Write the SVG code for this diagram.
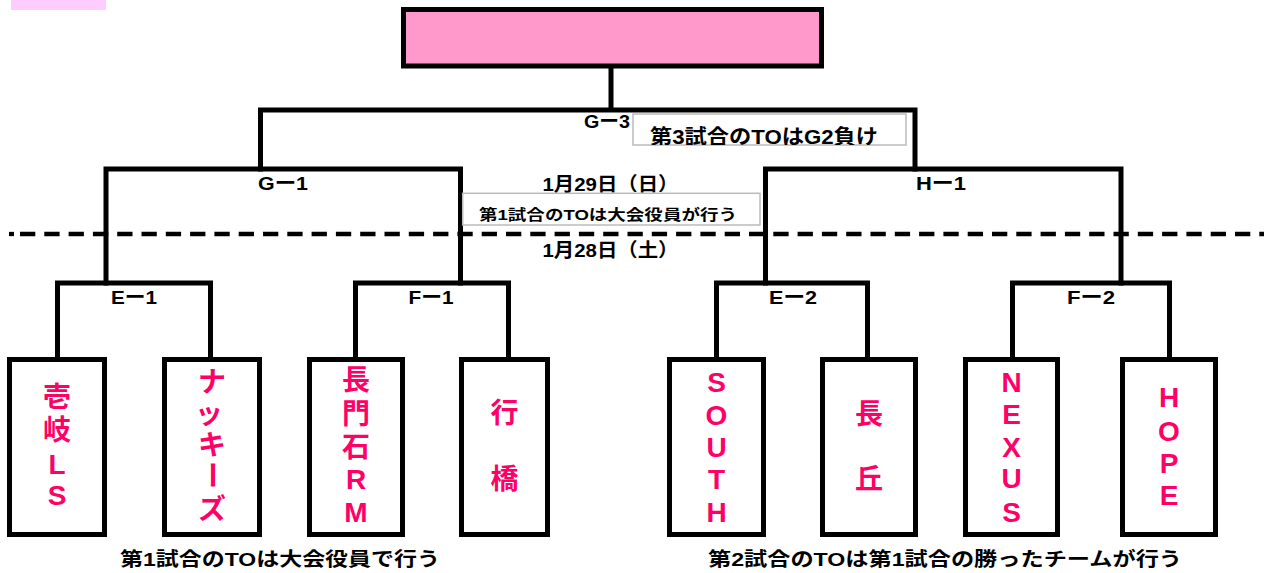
<svg xmlns="http://www.w3.org/2000/svg" width="1264" height="573" viewBox="0 0 1264 573">
<style>
.ln{fill:none;stroke:#000;stroke-width:5;stroke-linecap:square}
.box{fill:#fff;stroke:#000;stroke-width:5}
.lbl{font-family:"Liberation Sans","Noto Sans CJK JP",sans-serif;font-weight:bold;font-size:19px;fill:#000;text-anchor:middle}
.team{font-family:"Liberation Sans","Noto Sans CJK JP",sans-serif;font-weight:bold;font-size:28px;fill:#FF0066;text-anchor:middle}
.note{fill:#fff;stroke:#BBBBBB;stroke-width:1.5}
</style>
<defs>
<clipPath id="clipNote2"><rect x="633" y="114" width="273" height="31"/></clipPath>
</defs>
<rect width="1264" height="573" fill="#fff"/>
<rect id="corner-mark" x="11" y="0" width="95" height="10" fill="#FFCCFF"/>

<g id="connectors">
<path class="ln" d="M611 66 V110 M260.5 169 V110 H915 V169"/>
<path class="ln" d="M106 283 V169 H460.5 V283"/>
<path class="ln" d="M765.5 283 V169 H1121 V283"/>
<path class="ln" d="M57.5 359 V283 H210.5 V359"/>
<path class="ln" d="M355.5 359 V283 H508.5 V359"/>
<path class="ln" d="M716.5 359 V283 H867.5 V359"/>
<path class="ln" d="M1012.5 359 V283 H1169.5 V359"/>
<path d="M9 234 H14" stroke="#000" stroke-width="4.3"/>
<path d="M20 234 H1264" stroke="#000" stroke-width="4.3" stroke-dasharray="15.3 9"/>
</g>

<g id="match-labels">
<text class="lbl" x="607" y="128" textLength="46" lengthAdjust="spacingAndGlyphs">Gー3</text>
<text class="lbl" x="283" y="190" textLength="50" lengthAdjust="spacingAndGlyphs">Gー1</text>
<text class="lbl" x="941" y="190" textLength="50" lengthAdjust="spacingAndGlyphs">Hー1</text>
<text class="lbl" x="134" y="304" textLength="46" lengthAdjust="spacingAndGlyphs">Eー1</text>
<text class="lbl" x="431" y="304" textLength="45" lengthAdjust="spacingAndGlyphs">Fー1</text>
<text class="lbl" x="793" y="304" textLength="48" lengthAdjust="spacingAndGlyphs">Eー2</text>
<text class="lbl" x="1091" y="304" textLength="48" lengthAdjust="spacingAndGlyphs">Fー2</text>
</g>

<g id="final">
<rect x="403.5" y="9.5" width="418" height="56.5" fill="#FF99CC" stroke="#000" stroke-width="5"/>
</g>

<g id="dates">
<text class="lbl" x="610.5" y="191" textLength="136" lengthAdjust="spacingAndGlyphs">1月29日（日）</text>
<text class="lbl" x="610.5" y="257" textLength="136" lengthAdjust="spacingAndGlyphs">1月28日（土）</text>
</g>

<g id="note-g3">
<rect class="note" x="633" y="114" width="273" height="31"/>
<text class="lbl" x="764" y="144" textLength="228" lengthAdjust="spacingAndGlyphs" clip-path="url(#clipNote2)" style="font-size:20px">第3試合のTOはG2負け</text>
</g>

<g id="note-g1">
<rect class="note" x="462.7" y="193.3" width="297.3" height="31.7"/>
<text class="lbl" x="608" y="220" textLength="258" lengthAdjust="spacingAndGlyphs" style="font-size:14.5px">第1試合のTOは大会役員が行う</text>
</g>

<g id="team-ikilS">
<rect class="box" x="9.5" y="359.5" width="95" height="175"/>
<text class="team" x="57" y="407">壱</text>
<text class="team" x="57" y="440">岐</text>
<text class="team" x="57" y="474">L</text>
<text class="team" x="57" y="505">S</text>
</g>

<g id="team-nakkies">
<rect class="box" x="164.5" y="359.5" width="95" height="175"/>
<text class="team" x="212" y="392">ナ</text>
<text class="team" x="209" y="424">ッ</text>
<text class="team" x="212" y="455">キ</text>
<text class="team" x="212" y="485" transform="rotate(90 212 475)">ー</text>
<text class="team" x="212" y="519">ズ</text>
</g>

<g id="team-nagatoishiRM">
<rect class="box" x="309.5" y="359.5" width="93" height="175"/>
<text class="team" x="356" y="390">長</text>
<text class="team" x="356" y="424">門</text>
<text class="team" x="356" y="457">石</text>
<text class="team" x="356" y="489">R</text>
<text class="team" x="356" y="522">M</text>
</g>

<g id="team-yukuhashi">
<rect class="box" x="461.5" y="359.5" width="86" height="175"/>
<text class="team" x="504.5" y="423">行</text>
<text class="team" x="504.5" y="489">橋</text>
</g>

<g id="team-south">
<rect class="box" x="669.5" y="359.5" width="94" height="175"/>
<text class="team" x="716.5" y="392">S</text>
<text class="team" x="716.5" y="425">O</text>
<text class="team" x="716.5" y="457">U</text>
<text class="team" x="716.5" y="489">T</text>
<text class="team" x="716.5" y="522">H</text>
</g>

<g id="team-nagaoka">
<rect class="box" x="822.5" y="359.5" width="93" height="175"/>
<text class="team" x="869" y="424">長</text>
<text class="team" x="869" y="489">丘</text>
</g>

<g id="team-nexus">
<rect class="box" x="965.5" y="359.5" width="92" height="175"/>
<text class="team" x="1011.5" y="392">N</text>
<text class="team" x="1011.5" y="424">E</text>
<text class="team" x="1011.5" y="457">X</text>
<text class="team" x="1011.5" y="488">U</text>
<text class="team" x="1011.5" y="521.5">S</text>
</g>

<g id="team-hope">
<rect class="box" x="1122.5" y="359.5" width="93" height="175"/>
<text class="team" x="1169" y="407">H</text>
<text class="team" x="1169" y="441">O</text>
<text class="team" x="1169" y="473">P</text>
<text class="team" x="1169" y="505">E</text>
</g>

<g id="footer-notes">
<text class="lbl" x="280" y="566" textLength="320" lengthAdjust="spacingAndGlyphs">第1試合のTOは大会役員で行う</text>
<text class="lbl" x="945" y="566" textLength="474" lengthAdjust="spacingAndGlyphs">第2試合のTOは第1試合の勝ったチームが行う</text>
</g>
</svg>
